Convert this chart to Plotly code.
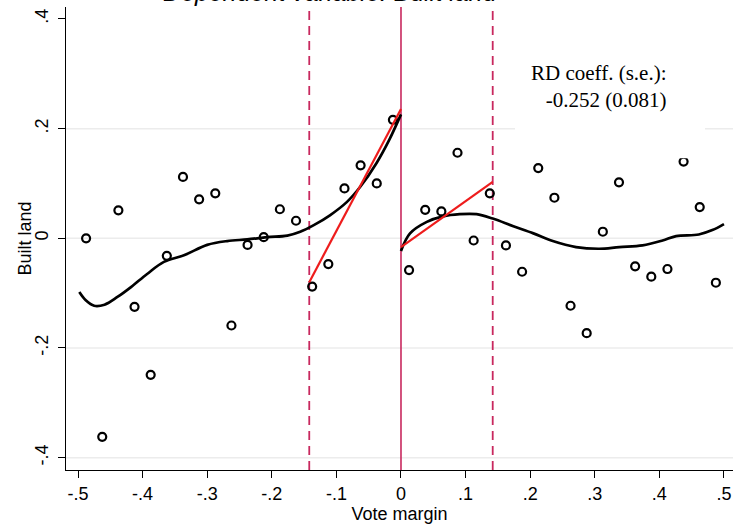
import plotly.graph_objects as go

# ---- data ----
bins_left = [-0.4875, -0.4625, -0.4375, -0.4125, -0.3875, -0.3625, -0.3375, -0.3125, -0.2875, -0.2625,
             -0.2375, -0.2125, -0.1875, -0.1625, -0.1375, -0.1125, -0.0875, -0.0625, -0.0375, -0.0125]
means_left = [0.000, -0.362, 0.051, -0.125, -0.249, -0.032, 0.112, 0.071, 0.082, -0.159,
              -0.012, 0.002, 0.053, 0.032, -0.088, -0.047, 0.091, 0.133, 0.100, 0.216]
bins_right = [0.0125, 0.0375, 0.0625, 0.0875, 0.1125, 0.1375, 0.1625, 0.1875, 0.2125, 0.2375,
              0.2625, 0.2875, 0.3125, 0.3375, 0.3625, 0.3875, 0.4125, 0.4375, 0.4625, 0.4875]
means_right = [-0.058, 0.052, 0.049, 0.156, -0.004, 0.082, -0.013, -0.061, 0.128, 0.074,
               -0.123, -0.173, 0.012, 0.102, -0.051, -0.070, -0.056, 0.140, 0.057, -0.081]

smooth_left_x = [-0.498, -0.488, -0.475, -0.459, -0.439, -0.418, -0.393, -0.367, -0.336, -0.300,
                 -0.269, -0.238, -0.207, -0.176, -0.156, -0.135, -0.110, -0.084, -0.063, -0.038, -0.018, 0.0]
smooth_left_y = [-0.098, -0.113, -0.123, -0.121, -0.107, -0.089, -0.065, -0.043, -0.031, -0.012,
                 -0.005, -0.002, 0.002, 0.005, 0.012, 0.024, 0.042, 0.066, 0.094, 0.137, 0.180, 0.226]
smooth_right_x = [0.0, 0.014, 0.040, 0.065, 0.091, 0.117, 0.142, 0.174, 0.205, 0.235, 0.271,
                  0.307, 0.338, 0.374, 0.405, 0.426, 0.461, 0.482, 0.500]
smooth_right_y = [-0.023, 0.009, 0.030, 0.040, 0.044, 0.044, 0.036, 0.022, 0.009, -0.005, -0.016,
                  -0.019, -0.016, -0.013, -0.004, 0.004, 0.007, 0.015, 0.026]

fit_left_x = [-0.142, 0.0]
fit_left_y = [-0.080, 0.236]
fit_right_x = [0.0, 0.142]
fit_right_y = [-0.016, 0.103]

cutoff = 0.0
bandwidth = 0.142

x_ticks = [-0.5, -0.4, -0.3, -0.2, -0.1, 0.0, 0.1, 0.2, 0.3, 0.4, 0.5]
x_ticktext = ["-.5", "-.4", "-.3", "-.2", "-.1", "0", ".1", ".2", ".3", ".4", ".5"]
y_ticks = [-0.4, -0.2, 0.0, 0.2, 0.4]
y_ticktext = ["-.4", "-.2", "0", ".2", ".4"]
grid_vals = [-0.4, -0.2, 0.0, 0.2]

rd_text = "RD coeff. (s.e.):<br>-0.252 (0.081)"
title_text = "Dependent variable: Built land"
x_title = "Vote margin"
y_title = "Built land"

VLINE = "#c8285e"
FONT = "Liberation Sans, Arial, sans-serif"

fig = go.Figure()

marker = dict(symbol="circle-open", size=8, color="black", line=dict(width=2.2, color="black"))
fig.add_trace(go.Scatter(x=bins_left, y=means_left, mode="markers", marker=marker, showlegend=False))
fig.add_trace(go.Scatter(x=bins_right, y=means_right, mode="markers", marker=marker, showlegend=False))

fig.add_trace(go.Scatter(x=smooth_left_x, y=smooth_left_y, mode="lines", line=dict(color="black", width=2.7, shape="spline"), showlegend=False))
fig.add_trace(go.Scatter(x=smooth_right_x, y=smooth_right_y, mode="lines", line=dict(color="black", width=2.7, shape="spline"), showlegend=False))

fig.add_trace(go.Scatter(x=fit_left_x, y=fit_left_y, mode="lines", line=dict(color="#ee1c1c", width=2.2), showlegend=False))
fig.add_trace(go.Scatter(x=fit_right_x, y=fit_right_y, mode="lines", line=dict(color="#ee1c1c", width=2.2), showlegend=False))

shapes = []
for g in grid_vals:
    shapes.append(dict(type="line", xref="paper", x0=0, x1=1, yref="y", y0=g, y1=g,
                       line=dict(color="#ececec", width=1.5), layer="below"))
shapes.append(dict(type="line", xref="x", x0=cutoff, x1=cutoff, yref="paper", y0=0, y1=1,
                   line=dict(color=VLINE, width=1.6), layer="below"))
for b in (-bandwidth, bandwidth):
    shapes.append(dict(type="line", xref="x", x0=b, x1=b, yref="paper", y0=0, y1=1,
                       line=dict(color=VLINE, width=1.8, dash="9px,6px"), layer="below"))
# white box behind the RD annotation
shapes.append(dict(type="rect", xref="x", x0=0.1765, x1=0.4706, yref="y", y0=0.146, y1=0.45,
                   fillcolor="white", line=dict(width=0), layer="above"))

fig.update_layout(
    width=733, height=525,
    margin=dict(l=66, r=0, t=7, b=55),
    plot_bgcolor="white", paper_bgcolor="white",
    shapes=shapes,
    font=dict(family=FONT, color="black", size=18),
    annotations=[
        dict(text=rd_text, xref="x", yref="y", x=0.415, y=0.276, xanchor="right", yanchor="middle",
             align="right", showarrow=False,
             font=dict(family="Liberation Serif, DejaVu Serif, serif", size=21, color="black")),
        dict(text="<i>" + title_text + "</i>", xref="paper", yref="paper", x=0.397, y=0.9985,
             xanchor="center", yanchor="bottom", showarrow=False,
             font=dict(family=FONT, size=25, color="black")),
        dict(text=y_title, xref="paper", yref="paper", x=-0.0615, y=0.5, textangle=-90,
             xanchor="center", yanchor="middle", showarrow=False,
             font=dict(family=FONT, size=18, color="black")),
    ],
    xaxis=dict(range=[-0.5186, 0.514], tickvals=x_ticks, ticktext=x_ticktext, automargin=False,
               showgrid=False, zeroline=False, showline=True, linecolor="black", linewidth=1.3,
               ticks="outside", ticklen=7, tickwidth=1.3, tickcolor="black",
               tickfont=dict(size=18, family=FONT),
               title=dict(text=x_title, font=dict(size=18, family=FONT), standoff=0)),
    yaxis=dict(range=[-0.4225, 0.4218], tickvals=y_ticks, ticktext=y_ticktext, tickangle=-90,
               automargin=False, ticklabelstandoff=3,
               showgrid=False, zeroline=False, showline=True, linecolor="black", linewidth=1.3,
               ticks="outside", ticklen=7, tickwidth=1.3, tickcolor="black",
               tickfont=dict(size=18, family=FONT)),
)

fig.write_html("out.html", config={"displayModeBar": False},
               post_script="document.body.style.margin='0';document.body.style.padding='0';")
